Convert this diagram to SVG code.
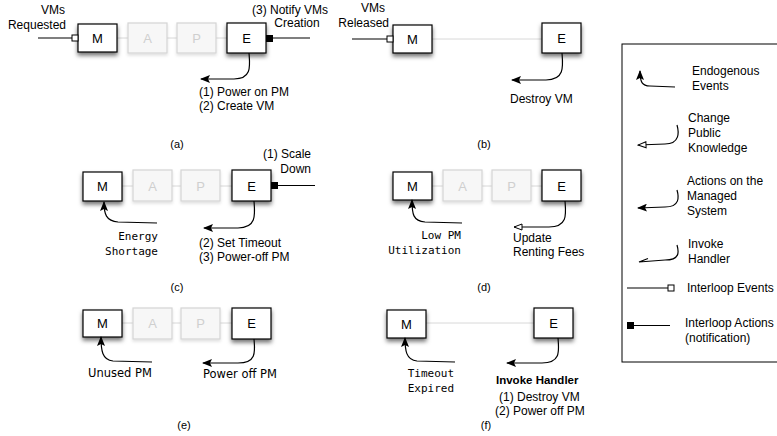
<svg xmlns="http://www.w3.org/2000/svg" width="777" height="436" viewBox="0 0 777 436">
<defs>
<filter id="sh" x="-30%" y="-30%" width="160%" height="180%"><feDropShadow dx="0" dy="3" stdDeviation="2" flood-color="#000" flood-opacity="0.55"/></filter>
<filter id="shl" x="-30%" y="-30%" width="160%" height="180%"><feDropShadow dx="0" dy="2" stdDeviation="1.5" flood-color="#000" flood-opacity="0.12"/></filter>
<marker id="af" viewBox="0 0 10 8" refX="9" refY="4" markerWidth="10" markerHeight="8" markerUnits="userSpaceOnUse" orient="auto"><path d="M0,0 L10,4 L0,8 L2,4 z" fill="#000"/></marker>
<marker id="ah" viewBox="0 0 10 8" refX="9" refY="4" markerWidth="10" markerHeight="8" markerUnits="userSpaceOnUse" orient="auto"><path d="M1,1 L9,4 L1,7 z" fill="#fff" stroke="#000" stroke-width="1"/></marker>
</defs>
<style>
.box{fill:#fff;stroke:#000;stroke-width:1.2;filter:url(#sh)}
.fbox{fill:#f7f7f7;stroke:#d4d4d4;stroke-width:1.2;filter:url(#shl)}
.bt{font-family:"Liberation Sans",Arial,sans-serif;font-size:13px;text-anchor:middle;fill:#000}
.ft{font-family:"Liberation Sans",Arial,sans-serif;font-size:13px;text-anchor:middle;fill:#cfcfcf}
.t{font-family:"Liberation Sans",Arial,sans-serif;font-size:12px;fill:#000}
.tb{font-family:"Liberation Sans",Arial,sans-serif;font-size:11.5px;font-weight:bold;fill:#000}
.m{font-family:"DejaVu Sans Mono","Liberation Mono",monospace;font-size:11px;fill:#000}
.d{font-family:"DejaVu Sans",sans-serif;font-size:11.5px;fill:#000}
.cap{font-family:"Liberation Sans",Arial,sans-serif;font-size:11px;text-anchor:middle;fill:#000}
.c{fill:none;stroke:#000;stroke-width:1.2}
.g{fill:none;stroke:#d8d8d8;stroke-width:1}
.w{fill:#fff;stroke:#000;stroke-width:1}
</style>

<!-- gray links -->
<g id="links">
<line class="g" x1="117" y1="38" x2="227" y2="38"/>
<line class="g" x1="432" y1="39" x2="542" y2="39"/>
<line class="g" x1="122" y1="186" x2="232" y2="186"/>
<line class="g" x1="432" y1="186" x2="542" y2="186"/>
<line class="g" x1="122" y1="323" x2="232" y2="323"/>
<line class="g" x1="426" y1="323" x2="534" y2="323"/>
</g>

<!-- panel a -->
<g id="a-M"><rect class="box" x="78" y="24" width="39" height="28"/><text class="bt" x="97.5" y="43">M</text></g>
<g id="a-A"><rect class="fbox" x="128" y="23" width="39" height="30"/><text class="ft" x="147.5" y="43">A</text></g>
<g id="a-P"><rect class="fbox" x="177" y="23" width="39" height="30"/><text class="ft" x="196.5" y="43">P</text></g>
<g id="a-E"><rect class="box" x="227" y="23" width="39" height="30"/><text class="bt" x="246.5" y="43">E</text></g>

<!-- panel b -->
<g id="b-M"><rect class="box" x="393" y="25" width="39" height="28"/><text class="bt" x="412.5" y="44">M</text></g>
<g id="b-E"><rect class="box" x="542" y="23" width="39" height="30"/><text class="bt" x="561.5" y="43">E</text></g>

<!-- panel c -->
<g id="c-M"><rect class="box" x="83" y="172" width="39" height="29"/><text class="bt" x="102.5" y="191">M</text></g>
<g id="c-A"><rect class="fbox" x="133" y="170" width="39" height="31"/><text class="ft" x="152.5" y="191">A</text></g>
<g id="c-P"><rect class="fbox" x="181" y="170" width="39" height="31"/><text class="ft" x="200.5" y="191">P</text></g>
<g id="c-E"><rect class="box" x="232" y="170" width="39" height="31"/><text class="bt" x="251.5" y="191">E</text></g>

<!-- panel d -->
<g id="d-M"><rect class="box" x="393" y="172" width="39" height="28"/><text class="bt" x="412.5" y="191">M</text></g>
<g id="d-A"><rect class="fbox" x="443" y="170" width="39" height="31"/><text class="ft" x="462.5" y="191">A</text></g>
<g id="d-P"><rect class="fbox" x="492" y="170" width="39" height="31"/><text class="ft" x="511.5" y="191">P</text></g>
<g id="d-E"><rect class="box" x="542" y="170" width="39" height="31"/><text class="bt" x="561.5" y="191">E</text></g>

<!-- panel e -->
<g id="e-M"><rect class="box" x="83" y="310" width="39" height="27"/><text class="bt" x="102.5" y="328">M</text></g>
<g id="e-A"><rect class="fbox" x="133" y="308" width="39" height="31"/><text class="ft" x="152.5" y="328">A</text></g>
<g id="e-P"><rect class="fbox" x="181" y="308" width="39" height="31"/><text class="ft" x="200.5" y="328">P</text></g>
<g id="e-E"><rect class="box" x="232" y="308" width="39" height="31"/><text class="bt" x="251.5" y="328">E</text></g>

<!-- panel f -->
<g id="f-M"><rect class="box" x="387" y="310" width="39" height="28"/><text class="bt" x="406.5" y="329">M</text></g>
<g id="f-E"><rect class="box" x="534" y="308" width="39" height="30"/><text class="bt" x="553.5" y="328">E</text></g>

<!-- connectors -->
<g id="connectors">
<!-- a -->
<line class="c" x1="38" y1="38" x2="72" y2="38"/>
<rect class="w" x="72" y="35" width="6" height="6"/>
<rect x="266" y="35" width="7" height="7" fill="#000"/>
<line class="c" x1="273" y1="38" x2="310" y2="38"/>
<path class="c" d="M249 53 C250 66 252 79 234 79 L201 79" marker-end="url(#af)"/>
<!-- b -->
<line class="c" x1="352" y1="39" x2="387" y2="39"/>
<rect class="w" x="387" y="36" width="6" height="6"/>
<path class="c" d="M562 53 C563 66 565 80 546 80 L512 80" marker-end="url(#af)"/>
<!-- c -->
<rect x="271" y="182" width="7" height="7" fill="#000"/>
<line class="c" x1="278" y1="185.5" x2="315" y2="185.5"/>
<path class="c" d="M157 223 L118 222 C106 221 104 214 104 202" marker-end="url(#af)"/>
<path class="c" d="M254 201 C255 214 257 228 238 228 L204 228" marker-end="url(#af)"/>
<!-- d -->
<path class="c" d="M462 223 L425 222 C413 221 412 214 412 200" marker-end="url(#af)"/>
<path class="c" d="M565 201 C566 214 568 227 549 227 L514 227" marker-end="url(#ah)"/>
<!-- e -->
<path class="c" d="M152 362 L113 361 C102 360 101 350 101 337" marker-end="url(#af)"/>
<path class="c" d="M254 339 C255 351 257 363 238 363 L203 363" marker-end="url(#af)"/>
<!-- f -->
<path class="c" d="M455 362 L417 361 C406 360 405 350 405 338" marker-end="url(#af)"/>
<path class="c" d="M558 338 C559 351 561 363 542 363 L507 363" marker-end="url(#af)"/>
<!-- legend -->
<path class="c" d="M675 87 L650 86 C642 86 640 82 640 71" marker-end="url(#af)"/>
<path class="c" d="M677 125 C679 132 680 144 665 144 L638 145" marker-end="url(#ah)"/>
<path class="c" d="M677 190 C679 197 680 207 665 207 L638 208" marker-end="url(#af)"/>
<path class="c" d="M677 245 C679 252 680 260 665 260 L639 262 L648 258.5"/>
<line class="c" x1="627" y1="288" x2="668" y2="288"/>
<rect class="w" x="668" y="285" width="6" height="6"/>
<rect x="627" y="322" width="7" height="7" fill="#000"/>
<line class="c" x1="634" y1="325.5" x2="670" y2="325.5"/>
</g>

<!-- legend frame -->
<g id="legend">
<rect x="622" y="44" width="170" height="318" fill="none" stroke="#000" stroke-width="1"/>
<text class="t" x="692" y="75">Endogenous</text>
<text class="t" x="692" y="90">Events</text>
<text class="t" x="688" y="122">Change</text>
<text class="t" x="688" y="137">Public</text>
<text class="t" x="688" y="152">Knowledge</text>
<text class="t" x="687" y="185">Actions on the</text>
<text class="t" x="687" y="200">Managed</text>
<text class="t" x="687" y="215">System</text>
<text class="t" x="688" y="248">Invoke</text>
<text class="t" x="688" y="263">Handler</text>
<text class="t" x="687" y="292">Interloop Events</text>
<text class="t" x="685" y="327">Interloop Actions</text>
<text class="t" x="685" y="342">(notification)</text>
</g>

<!-- labels -->
<g id="labels">
<text class="t" x="53" y="14" text-anchor="middle">VMs</text>
<text class="t" x="66" y="29" text-anchor="end">Requested</text>
<text class="t" x="252" y="14">(3) Notify VMs</text>
<text class="t" x="297" y="27" text-anchor="middle">Creation</text>
<text class="t" x="199" y="96">(1) Power on PM</text>
<text class="t" x="199" y="110">(2) Create VM</text>
<text class="cap" x="177" y="148">(a)</text>

<text class="t" x="373" y="12" text-anchor="middle">VMs</text>
<text class="t" x="389" y="27" text-anchor="end">Released</text>
<text class="t" x="510" y="103">Destroy VM</text>
<text class="cap" x="484" y="148">(b)</text>

<text class="t" x="263" y="158">(1) Scale</text>
<text class="t" x="311" y="173" text-anchor="end">Down</text>
<text class="m" x="158" y="240" text-anchor="end">Energy</text>
<text class="m" x="158" y="255" text-anchor="end">Shortage</text>
<text class="t" x="199" y="247">(2) Set Timeout</text>
<text class="t" x="199" y="261">(3) Power-off PM</text>
<text class="cap" x="177" y="291">(c)</text>

<text class="m" x="461" y="239" text-anchor="end">Low PM</text>
<text class="m" x="461" y="254" text-anchor="end">Utilization</text>
<text class="t" x="513" y="242">Update</text>
<text class="t" x="513" y="256">Renting Fees</text>
<text class="cap" x="484" y="291">(d)</text>

<text class="d" x="88" y="377">Unused PM</text>
<text class="d" x="203" y="378">Power off PM</text>
<text class="cap" x="184" y="429">(e)</text>

<text class="m" x="454" y="377" text-anchor="end">Timeout</text>
<text class="m" x="454" y="392" text-anchor="end">Expired</text>
<text class="tb" x="496" y="384">Invoke Handler</text>
<text class="t" x="499" y="401">(1) Destroy VM</text>
<text class="t" x="495" y="415">(2) Power off PM</text>
<text class="cap" x="486" y="429">(f)</text>
</g>
</svg>
